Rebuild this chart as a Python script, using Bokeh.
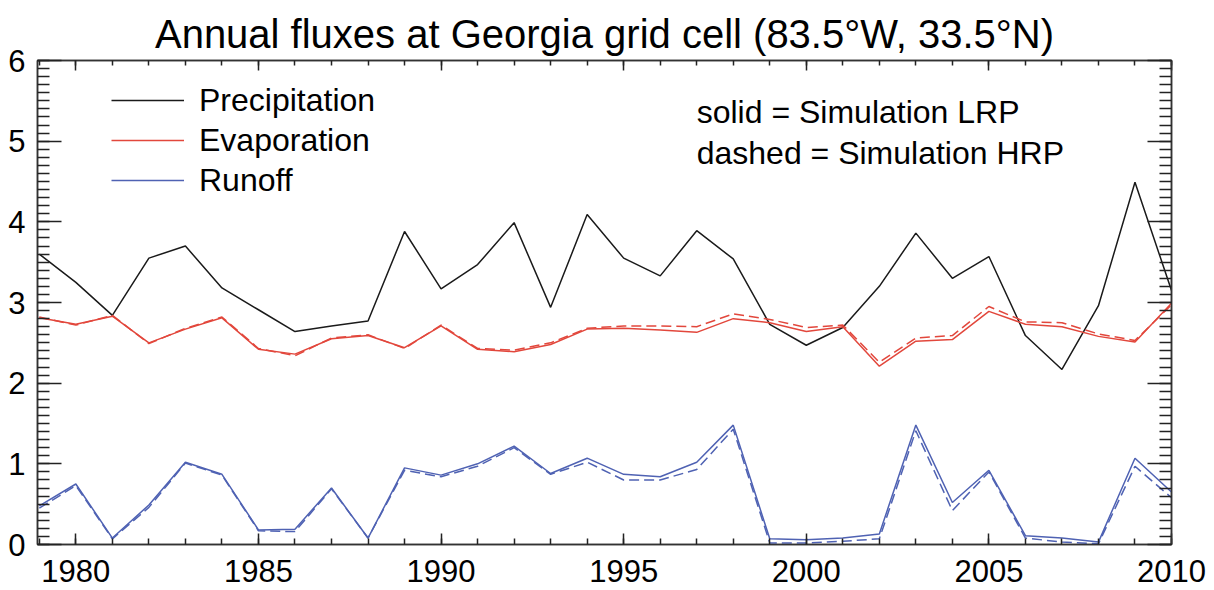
from bokeh.plotting import figure
from bokeh.models import (Range1d, SingleIntervalTicker, LinearAxis, Legend,
                          LegendItem, Label, CustomJSTickFormatter)
from bokeh.embed import file_html
from bokeh.resources import INLINE

years = list(range(1979, 2011))
precip = [3.60, 3.25, 2.84, 3.55, 3.70, 3.18, 2.91, 2.64, 2.71, 2.77, 3.88,
          3.17, 3.47, 3.99, 2.94, 4.09, 3.55, 3.33, 3.89, 3.54, 2.73, 2.47,
          2.69, 3.20, 3.86, 3.30, 3.57, 2.59, 2.17, 2.96, 4.49, 3.15]
evap_lrp = [2.81, 2.73, 2.83, 2.50, 2.67, 2.81, 2.42, 2.36, 2.55, 2.59, 2.44,
            2.71, 2.42, 2.39, 2.48, 2.67, 2.68, 2.66, 2.63, 2.80, 2.75, 2.64,
            2.70, 2.21, 2.52, 2.54, 2.89, 2.73, 2.70, 2.58, 2.51, 2.99]
evap_hrp = [2.82, 2.72, 2.84, 2.49, 2.68, 2.82, 2.43, 2.34, 2.56, 2.60, 2.43,
            2.72, 2.43, 2.41, 2.50, 2.68, 2.71, 2.71, 2.70, 2.86, 2.79, 2.69,
            2.72, 2.26, 2.56, 2.59, 2.95, 2.76, 2.75, 2.61, 2.53, 2.97]
runoff_lrp = [0.48, 0.75, 0.08, 0.49, 1.02, 0.87, 0.18, 0.19, 0.70, 0.08, 0.95,
              0.86, 1.00, 1.22, 0.88, 1.07, 0.87, 0.84, 1.02, 1.48, 0.07, 0.06,
              0.08, 0.13, 1.48, 0.52, 0.92, 0.11, 0.08, 0.03, 1.07, 0.65]
runoff_hrp = [0.45, 0.73, 0.07, 0.46, 1.01, 0.86, 0.17, 0.16, 0.69, 0.08, 0.92,
              0.84, 0.97, 1.20, 0.87, 1.02, 0.80, 0.80, 0.93, 1.43, 0.02, 0.02,
              0.04, 0.07, 1.41, 0.42, 0.90, 0.08, 0.03, 0.01, 0.97, 0.58]

series_names = ["Precipitation", "Evaporation", "Runoff"]
notes = ["solid = Simulation LRP", "dashed = Simulation HRP"]
title_text = "Annual fluxes at Georgia grid cell (83.5\u00b0W, 33.5\u00b0N)"

FONT = "Liberation Sans"
C_BLACK = "#1a1a1a"
C_RED = "#e2473c"
C_BLUE = "#4f62b3"

p = figure(width=1206, height=590, output_backend="svg", toolbar_location=None,
           x_range=Range1d(1978.95, 2010), y_range=Range1d(0, 6),
           x_axis_location=None, y_axis_location=None, title=title_text)
p.min_border_left = 37
p.min_border_right = 35
p.min_border_top = 60
p.min_border_bottom = 46
p.xgrid.visible = False
p.ygrid.visible = False
p.outline_line_color = "#333333"
p.outline_line_width = 1.5
p.background_fill_color = "white"
p.border_fill_color = "white"

p.title.text_font = FONT
p.title.text_font_size = "40px"
p.title.text_font_style = "normal"
p.title.text_color = "black"
p.title.align = "center"


def make_axis(kind, side):
    if kind == "x":
        ax = LinearAxis(ticker=SingleIntervalTicker(interval=5, num_minor_ticks=5))
        if side == "below":
            ax.major_tick_in, ax.minor_tick_in = 11, 6
        else:
            ax.major_tick_in, ax.minor_tick_in = 10, 5
    else:
        ax = LinearAxis(ticker=SingleIntervalTicker(interval=1, num_minor_ticks=10))
        ax.major_tick_in, ax.minor_tick_in = 24, 12
    ax.major_tick_out = 0
    ax.minor_tick_out = 0
    ax.axis_line_color = "#333333"
    ax.axis_line_width = 1.5
    ax.major_tick_line_color = "#222222"
    ax.minor_tick_line_color = "#222222"
    ax.major_tick_line_width = 1.5
    ax.minor_tick_line_width = 1.5
    ax.major_label_text_font = FONT
    ax.major_label_text_color = "black"
    ax.major_label_text_font_size = "31px"
    if side == "below":
        ax.major_label_standoff = 15
    elif side == "left":
        ax.major_label_standoff = 12
    else:
        ax.major_label_standoff = 0
        ax.formatter = CustomJSTickFormatter(code="return ''")
    p.add_layout(ax, side)
    return ax


make_axis("x", "below")
make_axis("x", "above")
make_axis("y", "left")
make_axis("y", "right")

r_p = p.line(years, precip, line_color=C_BLACK, line_width=1.5)
r_e = p.line(years, evap_lrp, line_color=C_RED, line_width=1.5)
p.line(years, evap_hrp, line_color=C_RED, line_width=1.5, line_dash="10 5")
r_r = p.line(years, runoff_lrp, line_color=C_BLUE, line_width=1.5)
p.line(years, runoff_hrp, line_color=C_BLUE, line_width=1.5, line_dash="10 5")

legend = Legend(items=[LegendItem(label=series_names[0], renderers=[r_p]),
                       LegendItem(label=series_names[1], renderers=[r_e]),
                       LegendItem(label=series_names[2], renderers=[r_r])],
                location=(74, 344), padding=0, margin=0, spacing=0,
                glyph_width=73, glyph_height=40, label_height=40,
                label_standoff=15, border_line_color=None,
                background_fill_alpha=0, label_text_font=FONT,
                label_text_font_size="32px", label_text_color="black")
p.add_layout(legend)

for i, t in enumerate(notes):
    p.add_layout(Label(x=1997, y=[5.36, 4.85][i], text=t, text_font=FONT,
                       text_font_size="32px", text_color="black",
                       text_baseline="middle"))

open("out.html", "w").write(file_html(p, INLINE))
